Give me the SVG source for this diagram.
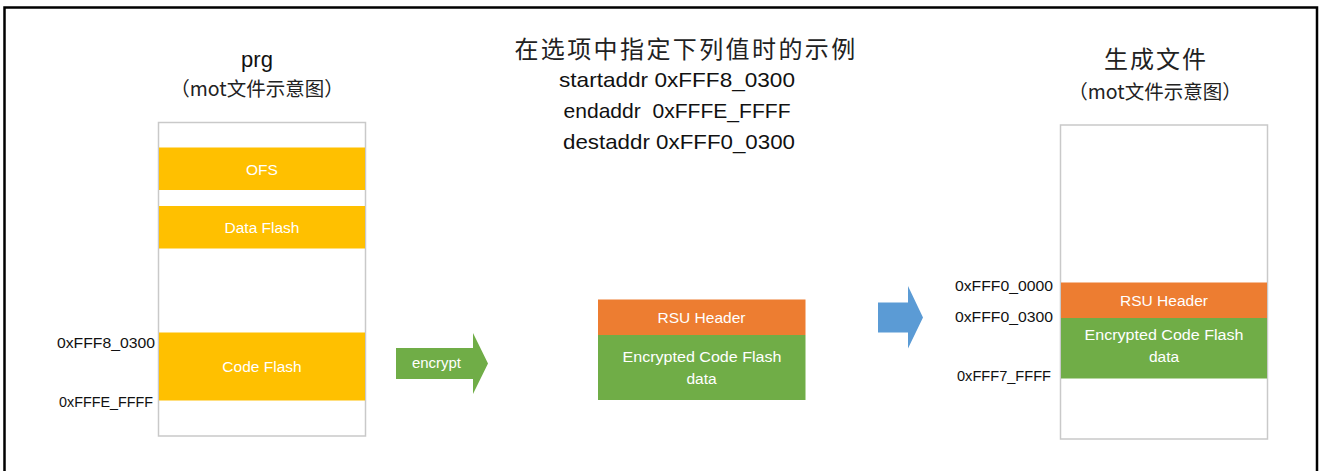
<svg xmlns="http://www.w3.org/2000/svg" width="1320" height="471" viewBox="0 0 1320 471">
<style>
text{font-family:"Liberation Sans","Noto Sans CJK SC",sans-serif;}
.cj{font-family:"Noto Sans CJK SC","Liberation Sans",sans-serif;fill:#222;}
.cont{fill:#fff;stroke:#c9c9c9;stroke-width:1.5;}
.wt{fill:#fff;font-size:15.5px;text-anchor:middle;dominant-baseline:central;}
.addr{fill:#111;font-size:15.5px;text-anchor:end;dominant-baseline:central;}
.hd{fill:#111;font-size:21px;text-anchor:middle;}
.yel{fill:#FFC000;}
.org{fill:#ED7D31;}
.grn{fill:#70AD47;}
</style>
<rect width="1320" height="471" fill="#fff"/>
<path d="M4.5,471 V7.5 H1317 V471" fill="none" stroke="#000" stroke-width="2.5"/>

<g id="left-title">
<text x="257" y="67" class="hd" style="font-size:22px">prg</text>
<text x="257" y="96" class="cj" style="font-size:19.5px" text-anchor="middle">（mot文件示意图）</text>
</g>

<g id="prg-memory">
<rect class="cont" x="158.5" y="122.5" width="207" height="313.5"/>
<g id="ofs"><rect class="yel" x="159" y="147.5" width="206" height="42.5"/><text class="wt" x="262" y="169">OFS</text></g>
<g id="data-flash"><rect class="yel" x="159" y="206" width="206" height="42.5"/><text class="wt" x="262" y="227">Data Flash</text></g>
<g id="code-flash"><rect class="yel" x="159" y="332.5" width="206" height="68"/><text class="wt" x="262" y="366">Code Flash</text></g>
<text class="addr" x="155" y="342" textLength="98" lengthAdjust="spacingAndGlyphs">0xFFF8_0300</text>
<text class="addr" x="153" y="401" textLength="94" lengthAdjust="spacingAndGlyphs">0xFFFE_FFFF</text>
</g>

<g id="center-title">
<text x="686" y="58" class="cj" style="font-size:24px;letter-spacing:2.4px" text-anchor="middle">在选项中指定下列值时的示例</text>
<text x="677" y="87" class="hd" textLength="236" lengthAdjust="spacingAndGlyphs">startaddr 0xFFF8_0300</text>
<text x="677" y="118" class="hd" textLength="227" lengthAdjust="spacingAndGlyphs" xml:space="preserve">endaddr  0xFFFE_FFFF</text>
<text x="679" y="149" class="hd" textLength="232" lengthAdjust="spacingAndGlyphs">destaddr 0xFFF0_0300</text>
</g>

<g id="encrypted-block">
<rect class="org" x="598" y="299.5" width="207.5" height="35.5"/>
<rect class="grn" x="598" y="335" width="207.5" height="65"/>
<text class="wt" x="701.5" y="317.5" textLength="88" lengthAdjust="spacingAndGlyphs">RSU Header</text>
<text class="wt" x="702" y="356" textLength="159" lengthAdjust="spacingAndGlyphs">Encrypted Code Flash</text>
<text class="wt" x="701.5" y="378">data</text>
</g>

<g id="right-title">
<text x="1156" y="68" class="cj" style="font-size:24px;letter-spacing:2px" text-anchor="middle">生成文件</text>
<text x="1155" y="99" class="cj" style="font-size:19.5px" text-anchor="middle">（mot文件示意图）</text>
</g>

<g id="output-memory">
<rect class="cont" x="1060.5" y="125" width="207" height="314"/>
<g id="rsu-header"><rect class="org" x="1061" y="282.5" width="206" height="35.5"/><text class="wt" x="1164" y="300.5" textLength="88" lengthAdjust="spacingAndGlyphs">RSU Header</text></g>
<g id="enc-data"><rect class="grn" x="1061" y="318" width="206" height="60.5"/><text class="wt" x="1164" y="334" textLength="159" lengthAdjust="spacingAndGlyphs">Encrypted Code Flash</text><text class="wt" x="1164" y="356">data</text></g>
<text class="addr" x="1053" y="285" textLength="98" lengthAdjust="spacingAndGlyphs">0xFFF0_0000</text>
<text class="addr" x="1053" y="316" textLength="98" lengthAdjust="spacingAndGlyphs">0xFFF0_0300</text>
<text class="addr" x="1051" y="375" textLength="94" lengthAdjust="spacingAndGlyphs">0xFFF7_FFFF</text>
</g>

<g id="connectors">
<g id="encrypt-arrow">
<path d="M396,348 H473 V333 L488,363.5 L473,394 V379 H396 Z" fill="#70AD47"/>
<text x="436.5" y="363" style="fill:#fff;font-size:14.5px;text-anchor:middle;dominant-baseline:central" textLength="49" lengthAdjust="spacingAndGlyphs">encrypt</text>
</g>
<path id="blue-arrow" d="M878,302.5 H908 V286 L923,317.5 L908,348.5 V332.5 H878 Z" fill="#5B9BD5"/>
</g>
</svg>
